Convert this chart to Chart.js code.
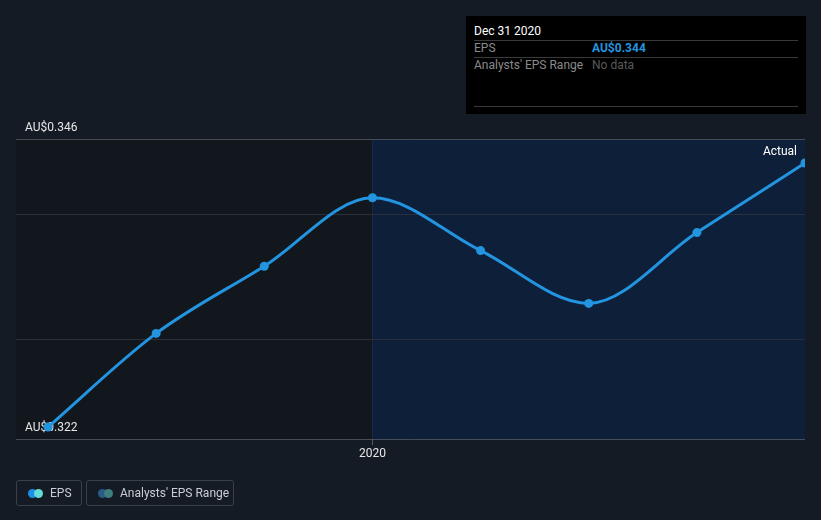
<!DOCTYPE html>
<html>
<head>
<meta charset="utf-8">
<script src="https://cdn.jsdelivr.net/npm/chart.js@4/dist/chart.umd.min.js"></script>
<style>
  html, body { margin: 0; padding: 0; background: #151b24; }
  body { width: 821px; height: 520px; position: relative; overflow: hidden; font-family: Roboto, "Open Sans", sans-serif; }
  #wrap { position: absolute; left: 0; top: 0; width: 821px; height: 520px; }
  .tip { position: absolute; left: 466px; top: 16px; width: 340px; height: 98px; background: #000; }
  .tip .ttl { position: absolute; left: 8px; top: 8px; color: #fff; font-size: 12px; }
  .tip .sep { position: absolute; left: 8px; width: 324px; height: 1px; background: #3a3a3a; }
  .tip .lab { position: absolute; left: 8px; color: #8a8a8a; font-size: 12px; }
  .tip .val { position: absolute; left: 126px; font-size: 12px; }
  .actual { position: absolute; right: 24px; top: 144px; color: #fff; font-size: 12px; }
  .leg { position: absolute; top: 480px; height: 26px; border: 1px solid #3a404b; border-radius: 3px; box-sizing: border-box; color: #c9cdd3; font-size: 12px; }
  .leg span.t { position: absolute; top: 5px; }
  .dot { position: absolute; top: 8px; width: 9px; height: 9px; border-radius: 50%; }
</style>
</head>
<body>
<div id="wrap"><canvas id="c" width="821" height="520"></canvas></div>

<div class="tip">
  <div class="ttl" id="tipTitle"></div>
  <div class="sep" style="top:24px"></div>
  <div class="lab" style="top:25px">EPS</div>
  <div class="val" id="tipVal" style="top:25px;color:#2394df;font-weight:bold"></div>
  <div class="sep" style="top:41px"></div>
  <div class="lab" style="top:42px">Analysts' EPS Range</div>
  <div class="val" style="top:42px;color:#5a5a5a">No data</div>
  <div class="sep" style="top:90px"></div>
</div>

<div class="actual">Actual</div>

<div class="leg" style="left:16px;width:66px">
  <div class="dot" style="left:11px;background:#1e8fe8"></div>
  <div class="dot" style="left:17px;background:#62dcd6"></div>
  <span class="t" style="left:33px">EPS</span>
</div>
<div class="leg" style="left:86px;width:148px">
  <div class="dot" style="left:11px;background:#2a5b86"></div>
  <div class="dot" style="left:17px;background:#3f7e7e"></div>
  <span class="t" style="left:33px">Analysts' EPS Range</span>
</div>

<script>
// ---- data ----
const categories = ['Mar 2019', 'Jun 2019', 'Sep 2019', 'Dec 2019', 'Mar 2020', 'Jun 2020', 'Sep 2020', 'Dec 2020'];
const epsValues = [0.322, 0.3298, 0.3354, 0.3411, 0.3367, 0.3323, 0.3382, 0.344];
const xTickPositions = [3];
const xTickLabels = ['2020'];
const yTickValues = [0.321, 0.32933, 0.33975, 0.346];
const yTickLabels = ['AU$0.322', '', '', 'AU$0.346'];
const highlightStartIndex = 3;
const tooltipTitle = 'Dec 31 2020';
const tooltipValue = 'AU$0.344';

document.getElementById('tipTitle').textContent = tooltipTitle;
document.getElementById('tipVal').textContent = tooltipValue;

const points = categories.map((c, i) => ({ x: i, y: epsValues[i] }));

const bgPlugin = {
  id: 'bgRegions',
  beforeDraw(chart) {
    const { ctx, chartArea: a, scales } = chart;
    const xs = scales.x.getPixelForValue(highlightStartIndex);
    ctx.save();
    ctx.fillStyle = '#12161d';
    ctx.fillRect(a.left, a.top, xs - a.left, a.bottom - a.top);
    ctx.fillStyle = '#0e1f3a';
    ctx.fillRect(xs, a.top, a.right - xs, a.bottom - a.top);
    ctx.strokeStyle = '#172946';
    ctx.lineWidth = 1;
    ctx.beginPath();
    ctx.moveTo(Math.round(xs) + 0.5, a.top);
    ctx.lineTo(Math.round(xs) + 0.5, a.bottom);
    ctx.stroke();
    const y = scales.y;
    yTickValues.forEach((v, i) => {
      const py = Math.round(y.getPixelForValue(v)) + 0.5;
      ctx.strokeStyle = (i === 0 || i === yTickValues.length - 1) ? '#474c57' : '#2a303b';
      ctx.beginPath();
      ctx.moveTo(a.left, py);
      ctx.lineTo(a.right, py);
      ctx.stroke();
    });
    ctx.restore();
  }
};

new Chart(document.getElementById('c'), {
  type: 'line',
  data: {
    datasets: [{
      label: 'EPS',
      data: points,
      borderColor: '#2394df',
      backgroundColor: '#2394df',
      borderWidth: 3,
      pointRadius: 4.5,
      pointBorderWidth: 0,
      pointBackgroundColor: '#2394df',
      cubicInterpolationMode: 'monotone'
    }]
  },
  options: {
    responsive: false,
    animation: false,
    layout: { padding: { top: 139, left: 16, right: 16, bottom: 0 } },
    plugins: { legend: { display: false }, tooltip: { enabled: false } },
    scales: {
      x: {
        type: 'linear',
        min: -0.296,
        max: categories.length - 1,
        border: { display: false },
        grid: {
          drawOnChartArea: false,
          drawTicks: true,
          tickLength: 6,
          color: '#555b66'
        },
        afterBuildTicks: (s) => { s.ticks = xTickPositions.map(v => ({ value: v })); },
        ticks: {
          autoSkip: false,
          maxRotation: 0,
          color: '#e6e6e6',
          padding: 2,
          font: { family: 'Roboto', size: 12 },
          callback: (v, i) => xTickLabels[i]
        },
        afterFit: (s) => { s.height = 81; }
      },
      y: {
        min: 0.321,
        max: 0.346,
        border: { display: false },
        grid: { display: false, drawTicks: false },
        afterBuildTicks: (s) => { s.ticks = yTickValues.map(v => ({ value: v })); },
        ticks: {
          mirror: true,
          padding: 9,
          labelOffset: -11,
          color: '#e6e6e6',
          font: { family: 'Roboto', size: 12 },
          callback: (v, i) => yTickLabels[i]
        },
        afterFit: (s) => { s.width = 0; }
      }
    }
  },
  plugins: [bgPlugin]
});
</script>
</body>
</html>
